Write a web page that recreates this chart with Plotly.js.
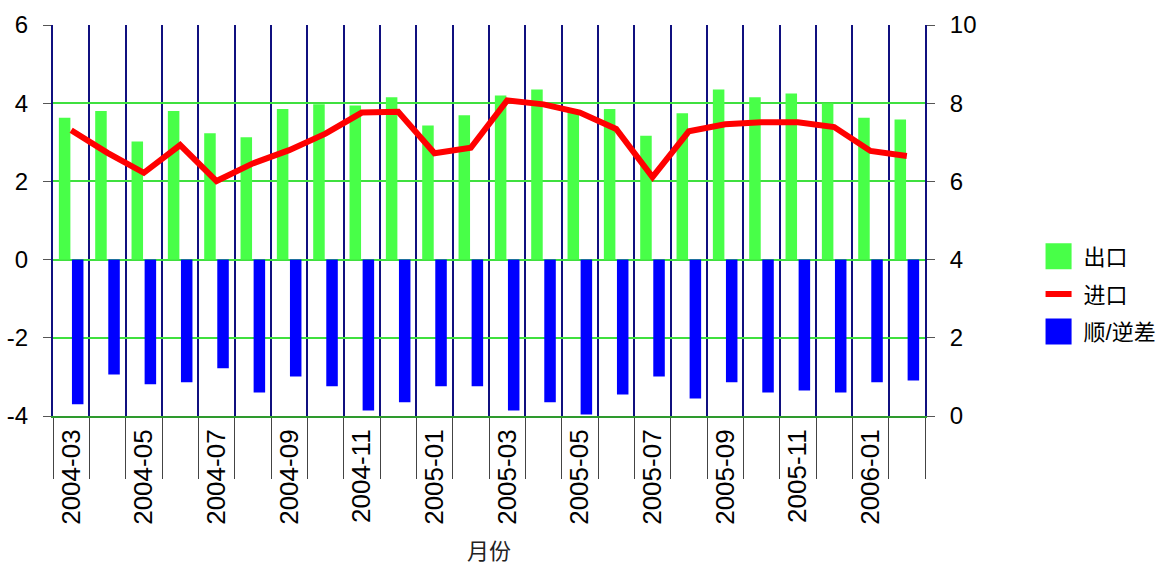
<!DOCTYPE html>
<html>
<head>
<meta charset="utf-8">
<script src="https://cdn.plot.ly/plotly-3.0.1.min.js"></script>
<style>
  html, body { margin: 0; padding: 0; background: #ffffff; }
  #chart { width: 1163px; height: 564px; }
</style>
</head>
<body>
<div id="chart"></div>
<script>
// ---- data ----
const months = ['2004-03','2004-04','2004-05','2004-06','2004-07','2004-08','2004-09','2004-10',
                '2004-11','2004-12','2005-01','2005-02','2005-03','2005-04','2005-05','2005-06',
                '2005-07','2005-08','2005-09','2005-10','2005-11','2005-12','2006-01','2006-02'];
const tickLabels = ['2004-03','','2004-05','','2004-07','','2004-09','',
                    '2004-11','','2005-01','','2005-03','','2005-05','',
                    '2005-07','','2005-09','','2005-11','','2006-01',''];
const leftTickVals = [-4, -2, 0, 2, 4, 6];
const leftTickText = ['-4', '-2', '0', '2', '4', '6'];
// 出口 (left axis)
const exports_ = [3.63, 3.80, 3.02, 3.80, 3.23, 3.13, 3.85, 3.97,
                  3.94, 4.15, 3.43, 3.69, 4.20, 4.35, 3.80, 3.85,
                  3.17, 3.74, 4.35, 4.15, 4.25, 3.99, 3.63, 3.58];
// 进口 (right axis)
const imports_ = [7.31, 6.73, 6.22, 6.93, 6.01, 6.46, 6.80, 7.22,
                  7.76, 7.78, 6.72, 6.86, 8.07, 7.97, 7.76, 7.34,
                  6.11, 7.28, 7.46, 7.51, 7.51, 7.39, 6.78, 6.65];
// 顺/逆差 (left axis)
const balance_ = [-3.70, -2.94, -3.19, -3.14, -2.78, -3.40, -2.99, -3.24,
                  -3.86, -3.65, -3.24, -3.24, -3.86, -3.65, -3.96, -3.45,
                  -2.99, -3.55, -3.14, -3.40, -3.35, -3.40, -3.14, -3.09];

const FONT = 'Liberation Sans, Arial, "Noto Sans CJK SC", sans-serif';
const NAVY = '#10107f';
const GRID_GREEN = '#3fe03f';

const traces = [
  { type: 'bar', name: '出口', x: months, y: exports_, yaxis: 'y', legendgroup: 'a',
    marker: { color: '#48ff48', line: { width: 0 } } },
  { type: 'scatter', mode: 'lines', name: '进口', x: months, y: imports_, yaxis: 'y2', legendgroup: 'b',
    line: { color: '#ff0000', width: 6 } },
  { type: 'bar', name: '顺/逆差', x: months, y: balance_, yaxis: 'y', legendgroup: 'c',
    marker: { color: '#0000ff', line: { width: 0 } } }
];

const layout = {
  width: 1163, height: 564,
  margin: { l: 53, r: 238, t: 25, b: 148, pad: 0, autoexpand: false },
  paper_bgcolor: '#ffffff', plot_bgcolor: '#ffffff',
  font: { family: FONT, color: '#000000' },
  barmode: 'group', bargap: 0.28, bargroupgap: 0.12,
  showlegend: true,
  legend: { xref: 'container', x: 0.8887, xanchor: 'left', y: 0.312, yanchor: 'middle',
            itemwidth: 40,
            font: { size: 22, family: FONT, color: '#000' },
            tracegroupgap: 6, bgcolor: 'rgba(0,0,0,0)', borderwidth: 0 },
  xaxis: {
    type: 'category', range: [-0.5, 23.5],
    tickvals: months, ticktext: tickLabels,
    tickson: 'boundaries', ticks: 'outside', ticklen: 61, tickwidth: 1, tickcolor: '#444',
    tickangle: -90, tickfont: { size: 26, family: FONT, color: '#000' },
    ticklabelstandoff: 1,
    showgrid: true, gridcolor: NAVY, gridwidth: 2,
    showline: true, linecolor: '#2e9a2e', linewidth: 2,
    zeroline: false,
    title: { text: '月份', standoff: 21, font: { size: 22, family: FONT, color: '#222' } }
  },
  yaxis: {
    range: [-4, 6], tickvals: leftTickVals, ticktext: leftTickText,
    ticks: 'outside', ticklen: 8, tickwidth: 1, tickcolor: '#555',
    tickfont: { size: 24, family: FONT, color: '#000' }, ticklabelstandoff: 10,
    showgrid: true, gridcolor: GRID_GREEN, gridwidth: 2,
    zeroline: true, zerolinecolor: GRID_GREEN, zerolinewidth: 2,
    showline: true, linecolor: NAVY, linewidth: 2
  },
  yaxis2: {
    overlaying: 'y', side: 'right',
    range: [0, 10], dtick: 2, tick0: 0,
    ticks: 'outside', ticklen: 8, tickwidth: 1, tickcolor: '#555',
    tickfont: { size: 24, family: FONT, color: '#000' }, ticklabelstandoff: 10,
    showgrid: false, zeroline: false,
    showline: true, linecolor: NAVY, linewidth: 2
  }
};

Plotly.newPlot('chart', traces, layout, { staticPlot: true, displayModeBar: false }).then(function (gd) {
  // match the reference's legend keys: larger square swatches, shorter line key
  gd.querySelectorAll('.legend .legendpoints path, .legend .legendlines path').forEach(function (p) {
    const d = p.getAttribute('d') || '';
    if (d.indexOf('M6,6H-6V-6H6Z') === 0) {
      const t = p.getAttribute('transform') || '';
      p.setAttribute('transform', t + ' scale(2.17)');
    } else if (d.indexOf('M5,0h') === 0) {
      p.setAttribute('d', 'M12,0h26');
    }
  });
});
</script>
</body>
</html>
